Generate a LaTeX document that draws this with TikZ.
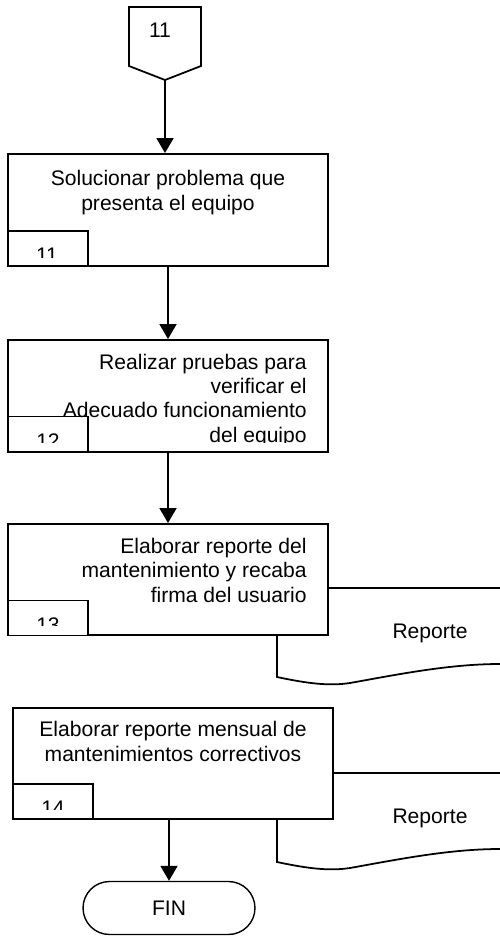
\documentclass[tikz,border=0pt]{standalone}
\usepackage{fontspec}
\setmainfont{Liberation Sans}
\usetikzlibrary{arrows.meta,shapes.misc}

\tikzset{
  flow/.style={-{Triangle[length=0.3cm,width=0.34cm]},line width=1.1pt},
  boxnode/.style={draw,rectangle,fill=white,line width=1.1pt,inner sep=0pt},
  docline/.style={draw,fill=white,line width=1pt},
  txt/.style={inner sep=0pt,font=\fontsize{12}{13.8}\selectfont},
}

\begin{document}
\begin{tikzpicture}[x=0.02cm,y=-0.02cm]
  \useasboundingbox (0,0) rectangle (500,937);
  \clip (0,0) rectangle (500,937);

  % reportes
  \foreach \dy in {0,185}
    \draw[docline,shift={(0,\dy)}] (277,588) -- (590,588) -- (590,670)
      .. controls (560,667) and (530,664) .. (500,664)
      .. controls (450,664) and (400,674) .. (350,683)
      .. controls (330,686) and (310,684) .. (277,677) -- cycle;
  \node[txt,anchor=base] (rep1) at (430,638) {Reporte};
  \node[txt,anchor=base] (rep2) at (430,823) {Reporte};

  % conector 11
  \draw[line width=1pt] (129,7) -- (201,7) -- (201,66) -- (165,80) -- (129,66) -- cycle;
  \coordinate (c11) at (165,80);
  \node[txt,anchor=base] (p11) at (160,37) {11};

  \begin{scope}[every node/.style={boxnode,minimum width=6.4cm}]
    \node[minimum height=2.24cm] (b1) at (168,210) {};
    \node[minimum height=2.24cm] (b2) at (168,396) {};
    \node[minimum height=2.22cm] (b3) at (168,579.5) {};
    \node[minimum height=2.22cm] (b4) at (173,763.5) {};
  \end{scope}

  \begin{scope}[every node/.style={boxnode,minimum width=1.6cm,minimum height=0.7cm}]
    \node (s1) at (48,248.5) {};
    \node (s2) at (48,434) {};
    \node (s3) at (48,618) {};
    \node (s4) at (53,801.5) {};
  \end{scope}

  % base = baseline of the last line
  \begin{scope}
    \clip (b1.north west) rectangle ([yshift=0.18cm]b1.south east);
    \node[txt,align=center,anchor=base] (t1) at (168,210) {Solucionar problema que\\presenta el equipo};
    \node[txt,anchor=base] (n1) at (47,262) {11};
  \end{scope}
  \begin{scope}
    \clip (b2.north west) rectangle ([yshift=0.2cm]b2.south east);
    \node[txt,align=right,anchor=base east] (t2) at (307,442) {Realizar pruebas para\\verificar el\\Adecuado funcionamiento\\del equipo};
    \node[txt,anchor=base] (n2) at (48,448) {12};
  \end{scope}
  \begin{scope}
    \clip (b3.north west) rectangle ([yshift=0.2cm]b3.south east);
    \node[txt,align=right,anchor=base east] (t3) at (307,602) {Elaborar reporte del\\mantenimiento y recaba\\firma del usuario};
    \node[txt,anchor=base] (n3) at (48,632) {13};
  \end{scope}
  \begin{scope}
    \clip (b4.north west) rectangle ([yshift=0.2cm]b4.south east);
    \node[txt,align=center,anchor=base] (t4) at (173,761) {Elaborar reporte mensual de\\mantenimientos correctivos};
    \node[txt,anchor=base] (n4) at (53,815) {14};
  \end{scope}

  \node[draw,rounded rectangle,line width=0.8pt,minimum width=3.44cm,minimum height=1.06cm,txt] (fin) at (169,908) {FIN};

  \draw[flow] (c11) -- (c11 |- b1.north);
  \draw[flow] (b1.south) -- (b2.north);
  \draw[flow] (b2.south) -- (b3.north);
  \draw[flow] (fin |- b4.south) -- (fin.north);

\end{tikzpicture}
\end{document}
